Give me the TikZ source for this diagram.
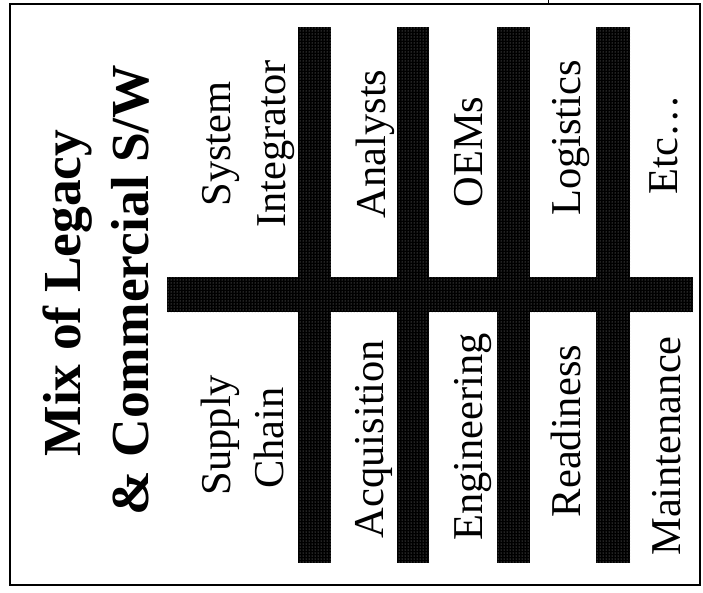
\documentclass[tikz,border=0pt]{standalone}
\usepackage{fontspec}
\setmainfont{Liberation Serif}
\usetikzlibrary{patterns}
\begin{document}
\begin{tikzpicture}[x=1pt,y=-1pt,
  bar/.style={fill=black,draw=none,postaction={pattern=dots,pattern color=black!40}},
  lbl/.style={rotate=90,anchor=base,inner sep=0pt,font=\fontsize{42.5}{51}\selectfont},
  ttl/.style={rotate=90,anchor=base,inner sep=0pt,font=\fontsize{53.5}{64}\selectfont\bfseries},
  frame/.style={draw=black,line width=2.5pt}]
\useasboundingbox (0,0) rectangle (703,592);
% frame
\draw[frame] (10,4) rectangle (700,585);
\draw[line width=1pt] (548,0) -- (548,4);
% horizontal bar
\path[bar] (167,277) rectangle (693,312);
% vertical bars
\path[bar] (298,27) rectangle (331,563);
\path[bar] (397,27) rectangle (429,563);
\path[bar] (497,27) rectangle (530,563);
\path[bar] (596,27) rectangle (630,563);
% title
\node[ttl] (t1) at (80,293) {Mix of Legacy};
\node[ttl] (t2) at (148,290) {\& Commercial S/W};
% labels
\node[lbl] (sys) at (230,144) {System};
\node[lbl] (int) at (285,144) {Integrator};
\node[lbl] (sup) at (230,435) {Supply};
\node[lbl] (cha) at (283,438) {Chain};
\node[lbl] (ana) at (385,144) {Analysts};
\node[lbl] (acq) at (383,439) {Acquisition};
\node[lbl] (oem) at (482,152) {OEMs};
\node[lbl] (eng) at (482,437) {Engineering};
\node[lbl] (log) at (580,138) {Logistics};
\node[lbl] (rea) at (580,431) {Readiness};
\node[lbl] (etc) at (677,145) {Etc…};
\node[lbl] (mai) at (680,446) {Maintenance};
\end{tikzpicture}
\end{document}
